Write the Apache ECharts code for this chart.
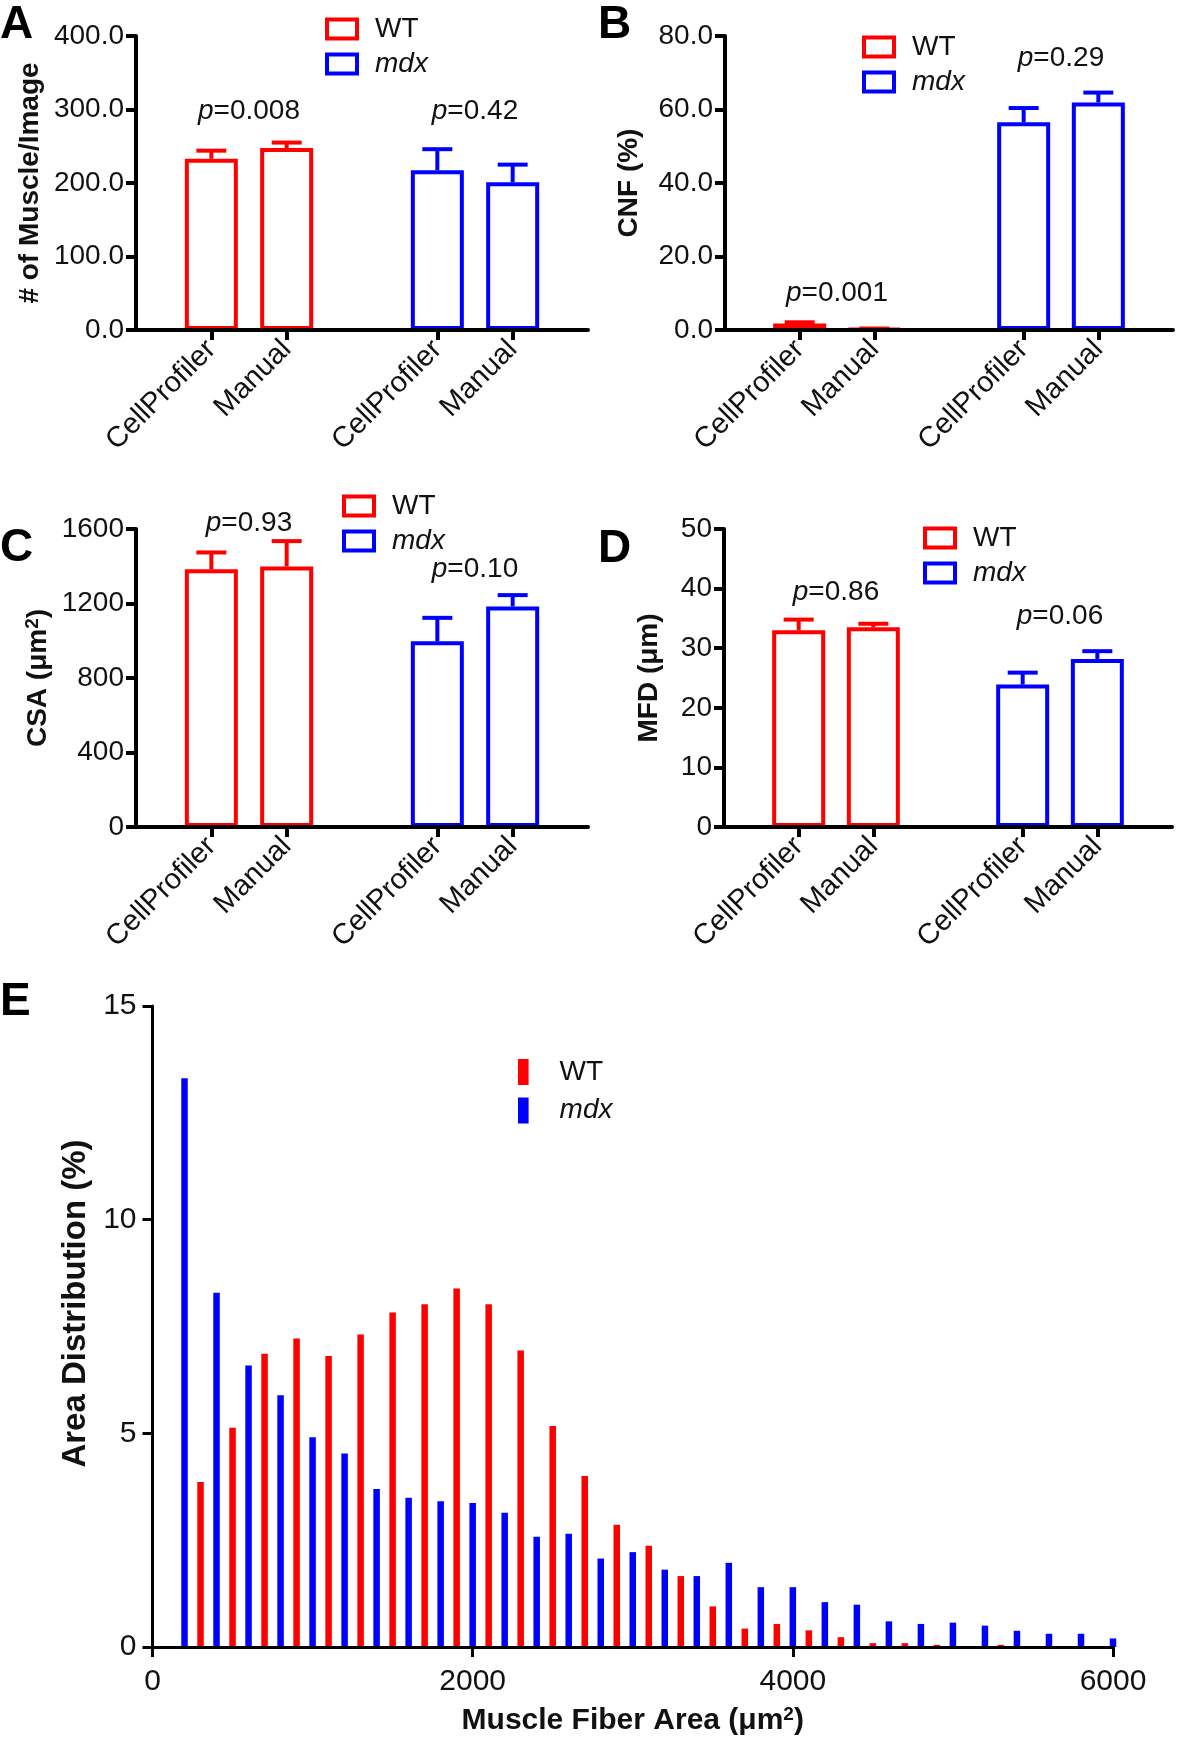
<!DOCTYPE html>
<html>
<head>
<meta charset="utf-8">
<title>CellProfiler vs manual fibre analysis</title>
<script src="https://cdn.jsdelivr.net/npm/echarts@6/dist/echarts.min.js"></script>
<style>
  html, body { margin: 0; padding: 0; background: #fff; }
  #main { width: 1181px; height: 1747px; }
</style>
</head>
<body>
<div id="main"></div>
<script>
// x slots for panels A-D, blank slots keep the WT and mdx pairs apart
const slots = ['', 'CellProfiler', 'Manual', '', 'CellProfiler', 'Manual', ''];

// A: # of muscle fibres per image (mean, sem)
const countWT = [233, 247.5];
const countWTsem = [11, 7.5];
const countMdx = [217.5, 201];
const countMdxSem = [28.5, 24];

// B: centrally nucleated fibres (%)
const cnfWT = [1.8, 0.3];
const cnfWTsem = [0.3, 0.1];
const cnfMdx = [56.5, 61.9];
const cnfMdxSem = [3.9, 2.7];

// C: cross sectional area (um2)
const csaWT = [1384, 1398];
const csaWTsem = [90, 137];
const csaMdx = [997, 1184];
const csaMdxSem = [126, 61];

// D: minimal feret diameter (um)
const mfdWT = [33.0, 33.5];
const mfdWTsem = [1.8, 0.6];
const mfdMdx = [23.9, 28.2];
const mfdMdxSem = [2.0, 1.3];

// p values, [WT pair, mdx pair]
const pA = ['0.008', '0.42'];
const pB = ['0.001', '0.29'];
const pC = ['0.93', '0.10'];
const pD = ['0.86', '0.06'];

// E: fibre area distribution (%)
const wtBins = [300, 500, 700, 900, 1100, 1300, 1500, 1700, 1900, 2100, 2300, 2500, 2700, 2900, 3100,
  3300, 3500, 3700, 3900, 4100, 4300, 4500, 4700, 4900, 5100, 5300, 5500, 5700, 5900];
const wtDist = [3.86, 5.13, 6.86, 7.22, 6.81, 7.31, 7.83, 8.02, 8.39, 8.02, 6.94, 5.17, 4.0, 2.86, 2.37,
  1.66, 0.95, 0.43, 0.54, 0.39, 0.23, 0.09, 0.09, 0.05, 0, 0.05, 0.02, 0, 0];
const mdxBins = [200, 400, 600, 800, 1000, 1200, 1400, 1600, 1800, 2000, 2200, 2400, 2600, 2800, 3000,
  3200, 3400, 3600, 3800, 4000, 4200, 4400, 4600, 4800, 5000, 5200, 5400, 5600, 5800, 6000];
const mdxDist = [13.31, 8.29, 6.59, 5.89, 4.91, 4.53, 3.70, 3.49, 3.41, 3.37, 3.14, 2.58, 2.65, 2.07, 2.22,
  1.81, 1.66, 1.97, 1.40, 1.40, 1.05, 0.99, 0.60, 0.54, 0.57, 0.50, 0.38, 0.31, 0.31, 0.20];

const RED = '#ff0000';
const BLUE = '#0000ff';
const INK = '#111';
const FONT = '"Liberation Sans", Arial, Helvetica, sans-serif';

// layout of the four small panels
const panels = [
  { letter: 'A', at: [0, 2], name: '# of Muscle/Image', nameGap: 92,
    grid: { left: 136, top: 36, width: 452, height: 294 }, max: 400, interval: 100, dec: 1,
    wt: countWT, wtSem: countWTsem, mdx: countMdx, mdxSem: countMdxSem,
    p: pA, pY: [298, 298], legend: [325, 15] },
  { letter: 'B', at: [598, 2], name: 'CNF (%)', nameGap: 82,
    grid: { left: 725, top: 36, width: 448, height: 294 }, max: 80, interval: 20, dec: 1,
    wt: cnfWT, wtSem: cnfWTsem, mdx: cnfMdx, mdxSem: cnfMdxSem,
    p: pB, pY: [10, 74], legend: [862, 33] },
  { letter: 'C', at: [0, 525], name: 'CSA (μm{s|2})', nameGap: 82,
    grid: { left: 136, top: 529, width: 452, height: 298 }, max: 1600, interval: 400, dec: 0,
    wt: csaWT, wtSem: csaWTsem, mdx: csaMdx, mdxSem: csaMdxSem,
    p: pC, pY: [1632, 1385], legend: [342, 492] },
  { letter: 'D', at: [598, 526], name: 'MFD (μm)', nameGap: 61,
    grid: { left: 724, top: 529, width: 448, height: 298 }, max: 50, interval: 10, dec: 0,
    wt: mfdWT, wtSem: mfdWTsem, mdx: mfdMdx, mdxSem: mfdMdxSem,
    p: pD, pY: [39.4, 35.4], legend: [923, 524] }
];

function slotData(vals, start) {
  const out = slots.map(() => '-');
  vals.forEach((v, i) => { out[start + i] = v; });
  return out;
}

function errData(vals, sems, start) {
  return vals.map((v, i) => [start + i, v, sems[i]]);
}

function errorBar(color) {
  return function (params, api) {
    const base = api.coord([api.value(0), api.value(1)]);
    const top = api.coord([api.value(0), api.value(1) + api.value(2)]);
    const st = { stroke: color, lineWidth: 4 };
    return {
      type: 'group',
      children: [
        { type: 'line', shape: { x1: base[0], y1: base[1], x2: top[0], y2: top[1] }, style: st },
        { type: 'line', shape: { x1: top[0] - 15, y1: top[1], x2: top[0] + 15, y2: top[1] }, style: st }
      ]
    };
  };
}

const grids = [];
const xAxes = [];
const yAxes = [];
const series = [];
const legends = [];
const graphics = [];

const supRich = { s: { fontSize: 19, fontWeight: 'bold', fontFamily: FONT, color: INK, verticalAlign: 'top', padding: [0, 0, 12, 0] } };

panels.forEach((p, i) => {
  grids.push(Object.assign({ containLabel: false, outerBoundsMode: 'none' }, p.grid));
  xAxes.push({
    type: 'category', gridIndex: i, data: slots, boundaryGap: false, z: 5,
    axisLine: { lineStyle: { color: '#000', width: 4 } },
    axisTick: { interval: (idx, v) => v !== '', length: 10, lineStyle: { color: '#000', width: 4 } },
    axisLabel: { interval: 0, rotate: 45, margin: 15, fontSize: 29, color: INK, fontFamily: FONT },
    splitLine: { show: false }
  });
  yAxes.push({
    type: 'value', gridIndex: i, min: 0, max: p.max, interval: p.interval, z: 5,
    name: p.name, nameLocation: 'middle', nameGap: p.nameGap,
    nameTextStyle: { fontSize: 28, fontWeight: 'bold', color: INK, fontFamily: FONT, rich: supRich },
    axisLine: { show: true, lineStyle: { color: '#000', width: 4 } },
    axisTick: { show: true, length: 10, lineStyle: { color: '#000', width: 4 } },
    axisLabel: { margin: 12, fontSize: 28, color: INK, fontFamily: FONT,
      formatter: v => v.toFixed(p.dec) },
    splitLine: { show: false }
  });
  series.push(
    { type: 'bar', name: 'WT', xAxisIndex: i, yAxisIndex: i, data: slotData(p.wt, 1),
      barWidth: 53, barGap: '-100%', silent: true,
      itemStyle: { color: '#fff', borderColor: RED, borderWidth: 4 } },
    { type: 'bar', name: 'mdx', xAxisIndex: i, yAxisIndex: i, data: slotData(p.mdx, 4),
      barWidth: 53, barGap: '-100%', silent: true,
      itemStyle: { color: '#fff', borderColor: BLUE, borderWidth: 4 } },
    { type: 'custom', xAxisIndex: i, yAxisIndex: i, renderItem: errorBar(RED), silent: true, z: 3,
      data: errData(p.wt, p.wtSem, 1) },
    { type: 'custom', xAxisIndex: i, yAxisIndex: i, renderItem: errorBar(BLUE), silent: true, z: 3,
      data: errData(p.mdx, p.mdxSem, 4) }
  );
  legends.push({
    left: p.legend[0], top: p.legend[1], orient: 'vertical', padding: 0,
    itemWidth: 30, itemHeight: 19, itemGap: 7, selectedMode: false, icon: 'rect',
    textStyle: { fontSize: 28, color: INK, fontFamily: FONT, padding: [0, 0, 0, 13] },
    data: [
      { name: 'WT', itemStyle: { color: '#fff', borderColor: RED, borderWidth: 4 } },
      { name: 'mdx', itemStyle: { color: '#fff', borderColor: BLUE, borderWidth: 4 },
        textStyle: { fontStyle: 'italic' } }
    ]
  });
});

// panel E
const eIdx = panels.length;
grids.push({ left: 152.5, top: 1006, width: 960.5, height: 641, containLabel: false, outerBoundsMode: 'none' });
xAxes.push({
  type: 'value', gridIndex: eIdx, min: 0, max: 6000, interval: 2000, z: 5,
  name: 'Muscle Fiber Area (μm{s|2})', nameLocation: 'middle', nameGap: 58,
  nameTextStyle: { fontSize: 30, fontWeight: 'bold', color: INK, fontFamily: FONT, rich: supRich },
  axisLine: { lineStyle: { color: '#000', width: 3 } },
  axisTick: { show: true, length: 10, lineStyle: { color: '#000', width: 3 } },
  axisLabel: { margin: 20, fontSize: 30, color: INK, fontFamily: FONT, formatter: v => String(v) },
  splitLine: { show: false }
});
yAxes.push({
  type: 'value', gridIndex: eIdx, min: 0, max: 15, interval: 5, z: 5,
  name: 'Area Distribution (%)', nameLocation: 'middle', nameGap: 60,
  nameTextStyle: { fontSize: 33, fontWeight: 'bold', color: INK, fontFamily: FONT, padding: [0, 0, 0, 46] },
  axisLine: { show: true, lineStyle: { color: '#000', width: 3 } },
  axisTick: { show: true, length: 10, lineStyle: { color: '#000', width: 3 } },
  axisLabel: { margin: 16, fontSize: 30, color: INK, fontFamily: FONT },
  splitLine: { show: false }
});
series.push(
  { type: 'bar', name: 'WT', xAxisIndex: eIdx, yAxisIndex: eIdx, barWidth: 6.5, barGap: '-100%', silent: true,
    itemStyle: { color: RED }, data: wtBins.map((x, i) => [x, wtDist[i]]) },
  { type: 'bar', name: 'mdx', xAxisIndex: eIdx, yAxisIndex: eIdx, barWidth: 6.5, barGap: '-100%', silent: true,
    itemStyle: { color: BLUE }, data: mdxBins.map((x, i) => [x, mdxDist[i]]) }
);
legends.push({
  left: 518, top: 1058, orient: 'vertical', padding: 0,
  itemWidth: 10.6, itemHeight: 26, itemGap: 10.5, selectedMode: false, icon: 'rect',
  textStyle: { fontSize: 28, color: INK, fontFamily: FONT, padding: [0, 0, 0, 26] },
  data: [
    { name: 'WT', itemStyle: { color: RED, borderWidth: 0 } },
    { name: 'mdx', itemStyle: { color: BLUE, borderWidth: 0 }, textStyle: { fontStyle: 'italic' } }
  ]
});

// panel letters
panels.map(p => [p.letter, p.at]).concat([['E', [0, 979]]]).forEach(([t, at]) => {
  graphics.push({
    type: 'text', left: at[0], top: at[1], silent: true,
    style: { text: t, fontSize: 46, fontWeight: 'bold', fontFamily: FONT, fill: '#000' }
  });
});

const chart = echarts.init(document.getElementById('main'));
chart.setOption({
  backgroundColor: '#fff',
  animation: false,
  grid: grids,
  xAxis: xAxes,
  yAxis: yAxes,
  legend: legends,
  series: series,
  graphic: graphics
});

// p value labels, centred over each pair of bars
panels.forEach((p, i) => {
  [1, 4].forEach((start, k) => {
    const a = chart.convertToPixel({ gridIndex: i }, [start, p.pY[k]]);
    const b = chart.convertToPixel({ gridIndex: i }, [start + 1, p.pY[k]]);
    graphics.push({
      type: 'text', x: (a[0] + b[0]) / 2, y: a[1], silent: true,
      style: {
        text: '{i|p}=' + p.p[k],
        fontSize: 28, fontFamily: FONT, fill: INK,
        align: 'center', verticalAlign: 'middle', textAlign: 'center', textVerticalAlign: 'middle',
        rich: { i: { fontSize: 28, fontFamily: FONT, fontStyle: 'italic', color: INK } }
      }
    });
  });
});
chart.setOption({ graphic: graphics });
</script>
</body>
</html>
